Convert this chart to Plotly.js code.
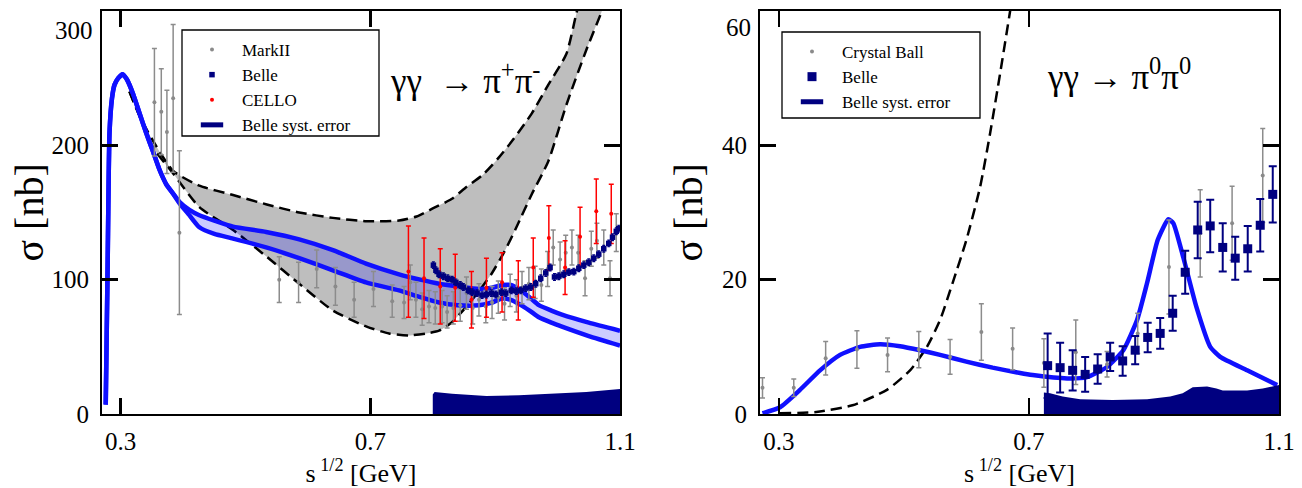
<!DOCTYPE html>
<html>
<head>
<meta charset="utf-8">
<script src="https://cdn.plot.ly/plotly-3.0.1.min.js"></script>
<style>html,body{margin:0;padding:0;background:#fff;}#chart{width:1302px;height:488px;}</style>
</head>
<body>
<div id="chart"></div>
<script>
// ---------------- Left panel: gamma gamma -> pi+ pi- ----------------
const grayUpX = [0.314,0.33,0.351,0.384,0.426,0.48,0.534,0.586,0.64,0.694,0.746,0.774,0.80,0.83,0.854,0.88,0.906,0.93,0.959,0.985,1.014,1.03,1.045];
const grayUpY = [240,222,204,181,170,163,156,150,146,143.5,144,147,153,160,169,178,191,205,224,245,268,298,325];
const grayLoX = [0.314,0.33,0.351,0.384,0.426,0.48,0.534,0.586,0.64,0.694,0.73,0.762,0.79,0.81,0.83,0.854,0.875,0.895,0.915,0.934,0.959,0.985,1.014,1.046,1.071,1.09];
const grayLoY = [240,222,199,179,154,137,117,97,77,65,60,58.5,60,62,68,80,92,105,121,139,164,188,230,271,300,325];

const bandUpX = [0.276,0.279,0.282,0.286,0.29,0.296,0.303,0.31,0.32,0.33,0.341,0.352,0.362,0.373,0.384,0.394,0.41,0.426,0.45,0.48,0.533,0.586,0.64,0.693,0.746,0.78,0.81,0.84,0.874,0.895,0.911,0.925,0.938,0.955,0.970,0.99,1.007,1.05,1.1];
const bandUpY = [7,110,209,235,245,250,253,249,238,224,209,195,182,171,164,158,152,148,144,139.5,135.5,130,122,112,104,100,97,95,93,94,96,96,93,87,81,77,74,68,62];
const bandLoX = [0.276,0.279,0.282,0.286,0.29,0.296,0.303,0.31,0.32,0.33,0.341,0.352,0.362,0.373,0.384,0.394,0.41,0.426,0.45,0.48,0.533,0.586,0.64,0.693,0.746,0.78,0.81,0.84,0.874,0.895,0.911,0.925,0.938,0.955,0.970,0.99,1.007,1.05,1.1];
const bandLoY = [7,110,209,235,245,250,253,249,238,224,209,195,182,171,164,157,148,139,134,130.6,124,116,107,98,92,87,83,81,81,83,86,85,82,77,72,68,65,58,51];

const markIIX = [0.354,0.365,0.374,0.384,0.394,0.554,0.585,0.614,0.644,0.674,0.705,0.735,0.754,0.764,0.773,0.783,0.794,0.804,0.815,0.823,0.833,0.844,0.854,0.864,0.874,0.885,0.895,0.905,0.915,0.924,0.934,0.943,0.954,0.964,0.974,0.984,0.993,1.004,1.013,1.023,1.033,1.044,1.054,1.063,1.074,1.084,1.094];
const markIIY = [232,225,210,235,135,100,98,108,95,85,93,84,83,98,85,78,80,79,80,76,79,81,90,79,85,80,83,87,82,92,88,94,97,98,96,108,124,115,120,124,120,101,123,129,124,101,135];
const markIIE = [40,32,31,55,61,17,15,14,14,13,13,12,12,13,13,12,12,12,12,12,12,12,12,12,12,12,12,12,12,12,12,12,12,12,12,13,13,13,13,13,13,13,13,13,13,13,14];

const belleLX = [0.801,0.805,0.81,0.817,0.824,0.831,0.837,0.844,0.849,0.857,0.863,0.871,0.879,0.886,0.894,0.901,0.91,0.917,0.926,0.934,0.941,0.949,0.957,0.965,0.973,0.981,0.988,0.995,1.002,1.01,1.018,1.026,1.034,1.042,1.05,1.058,1.066,1.074,1.082,1.088,1.094,1.098];
const belleLY = [110.8,107,104,102.6,101,100,98,96,94.5,92,90.7,90,88.5,89,90,89,90.7,90,92,91.5,92,93.7,94.5,97,101,105,109,102,102.6,104,105.6,106,108.5,110.8,113,116,119,123,127,131.6,136,138];
const belleLE = [2.5,2.5,2.5,2.5,2.5,2.5,2.5,2.5,2.5,2.5,2.5,2.5,2.5,2.5,2.5,2.5,2.5,2.5,2.5,2.5,2.5,2.5,2.5,2.5,2.5,2.5,2.5,2.5,2.5,2.5,2.5,2.5,2.5,2.5,2.5,2.5,2.5,2.5,2.5,2.5,2.5,2.5];

const celloX = [0.761,0.786,0.812,0.836,0.862,0.886,0.911,0.937,0.961,0.986,1.012,1.036,1.062,1.086];
const celloY = [106,101,95,94,85,94,98,92,109,131,109,132,151,149];
const celloE = [34,30,28,25,21,22,22,22,22,24,20,22,24,22];

const systLX = [0.80,0.803,0.831,0.886,0.938,0.991,1.046,1.1];
const systLY = [14.5,16.4,15,13.4,14,15.4,16.4,18.6];

// ---------------- Right panel: gamma gamma -> pi0 pi0 ----------------
const curveRX = [0.274,0.302,0.334,0.366,0.398,0.43,0.462,0.494,0.526,0.558,0.60,0.642,0.686,0.706,0.761,0.793,0.825,0.851,0.873,0.889,0.906,0.923,0.931,0.947,0.968,0.99,1.006,1.049,1.097];
const curveRY = [0.1,1.0,3.6,6.5,8.8,10.0,10.4,10.1,9.5,8.8,7.8,6.9,6.1,5.8,5.3,5.5,7.0,9.5,14,19.5,25.9,29.0,28.4,23.3,15.9,10.0,8.5,6.5,4.3];

const dashRX = [0.302,0.36,0.418,0.473,0.51,0.537,0.558,0.578,0.60,0.622,0.638,0.654,0.67,0.68];
const dashRY = [0.1,0.3,1.3,3.6,6.5,10.0,14.0,19.5,25.9,33.8,41.8,50.7,60,66];

const cbX = [0.274,0.324,0.375,0.425,0.474,0.524,0.574,0.624,0.674,0.724,0.775,0.825,0.874,0.924,0.974,1.025,1.074];
const cbY = [3.9,3.9,8.3,9.6,8.8,9.6,8.5,12.2,9.7,7.6,9.2,7.4,12.0,21.9,26.9,28.4,35.5];
const cbE = [1.5,1.3,2.5,2.8,2.5,2.7,2.6,4.2,3.1,3.6,4.8,1.9,3.0,7.0,6.5,5.5,7.0];

const belleRX = [0.73,0.75,0.77,0.79,0.81,0.83,0.85,0.87,0.89,0.91,0.93,0.95,0.97,0.99,1.01,1.03,1.05,1.07,1.09];
const belleRY = [7.2,6.9,6.5,5.9,6.7,8.5,7.9,9.5,11.4,12.0,15.0,21.1,27.4,28.0,24.8,23.2,24.6,28.1,32.7];
const belleRE = [4.8,3.7,3.0,2.6,2.2,2.1,2.2,2.1,2.2,2.3,2.6,3.2,4.2,3.9,3.6,3.2,3.4,3.9,4.2];

const systRX = [0.724,0.734,0.754,0.782,0.834,0.889,0.926,0.946,0.962,0.985,1.0,1.01,1.049,1.074,1.1];
const systRY = [3.2,3.1,2.6,2.2,2.1,2.2,2.6,3.1,4.0,4.1,3.8,3.5,3.5,3.8,4.3];

const xTicks = [0.3,0.7,1.1];
const xTickText = ['0.3','0.7','1.1'];
const yTicksL = [0,100,200];
const yTicksR = [0,20,40];

// ---------------- styles ----------------
const FONT = 'Liberation Serif';
const NAVY = '#000080';
const BLUE = '#1010ff';
const GRAYPT = '#8a8a8a';
const GRAYBAND = '#bebebe';

function eb(arr, color, thick, w) {
  return {type:'data', array:arr, visible:true, color:color, thickness:thick, width:w};
}

const traces = [
  {x:grayUpX, y:grayUpY, xaxis:'x', yaxis:'y', mode:'lines', line:{color:'black', width:2.5, dash:'11px,6px', shape:'spline', smoothing:0.6}, showlegend:false, hoverinfo:'skip'},
  {x:grayLoX, y:grayLoY, xaxis:'x', yaxis:'y', mode:'lines', fill:'tonexty', fillcolor:GRAYBAND, line:{color:'black', width:2.5, dash:'11px,6px', shape:'spline', smoothing:0.6}, showlegend:false, hoverinfo:'skip'},
  {x:bandUpX, y:bandUpY, xaxis:'x', yaxis:'y', mode:'lines', line:{color:BLUE, width:4.5, shape:'spline', smoothing:0.5}, showlegend:false, hoverinfo:'skip'},
  {x:bandLoX, y:bandLoY, xaxis:'x', yaxis:'y', mode:'lines', fill:'tonexty', fillcolor:'rgba(0,0,255,0.2)', line:{color:BLUE, width:4.5, shape:'spline', smoothing:0.5}, showlegend:false, hoverinfo:'skip'},
  {x:systLX, y:systLY, xaxis:'x', yaxis:'y', mode:'lines', fill:'tozeroy', fillcolor:NAVY, line:{color:NAVY, width:0}, showlegend:false, hoverinfo:'skip'},
  {x:markIIX, y:markIIY, xaxis:'x', yaxis:'y', mode:'markers', marker:{color:GRAYPT, size:4, symbol:'circle'}, error_y:eb(markIIE, '#8c8c8c', 1.5, 2.5), name:'MarkII', legend:'legend', legendrank:1},
  {x:celloX, y:celloY, xaxis:'x', yaxis:'y', mode:'markers', marker:{color:'#ff0000', size:4, symbol:'circle'}, error_y:eb(celloE, '#ff0000', 1.5, 2.5), name:'CELLO', legend:'legend', legendrank:3},
  {x:belleLX, y:belleLY, xaxis:'x', yaxis:'y', mode:'markers', marker:{color:NAVY, size:5.5, symbol:'square'}, error_y:eb(belleLE, NAVY, 1.2, 1.5), name:'Belle', legend:'legend', legendrank:2},
  {x:[null], y:[null], xaxis:'x', yaxis:'y', mode:'markers', marker:{symbol:'line-ew', size:17, color:NAVY, line:{color:NAVY, width:5}}, name:'Belle syst. error', legend:'legend', legendrank:4, hoverinfo:'skip'},

  {x:dashRX, y:dashRY, xaxis:'x2', yaxis:'y2', mode:'lines', line:{color:'black', width:2.5, dash:'11px,6px', shape:'spline', smoothing:0.6}, showlegend:false, hoverinfo:'skip'},
  {x:curveRX, y:curveRY, xaxis:'x2', yaxis:'y2', mode:'lines', line:{color:BLUE, width:4.5, shape:'spline', smoothing:0.5}, showlegend:false, hoverinfo:'skip'},
  {x:systRX, y:systRY, xaxis:'x2', yaxis:'y2', mode:'lines', fill:'tozeroy', fillcolor:NAVY, line:{color:NAVY, width:0}, showlegend:false, hoverinfo:'skip'},
  {x:cbX, y:cbY, xaxis:'x2', yaxis:'y2', mode:'markers', marker:{color:GRAYPT, size:4, symbol:'circle'}, error_y:eb(cbE, '#8c8c8c', 1.5, 2.5), name:'Crystal Ball', legend:'legend2', legendrank:1},
  {x:belleRX, y:belleRY, xaxis:'x2', yaxis:'y2', mode:'markers', marker:{color:NAVY, size:9, symbol:'square'}, error_y:eb(belleRE, NAVY, 2, 4), name:'Belle', legend:'legend2', legendrank:2},
  {x:[null], y:[null], xaxis:'x2', yaxis:'y2', mode:'markers', marker:{symbol:'line-ew', size:17, color:NAVY, line:{color:NAVY, width:5}}, name:'Belle syst. error', legend:'legend2', legendrank:3, hoverinfo:'skip'}
];

const W = 1302, H = 488;
function axBase() {
  return {
    showgrid:false, zeroline:false, showline:true, linecolor:'black', linewidth:2,
    mirror:'ticks', ticks:'inside', ticklen:16, tickwidth:2.5, tickcolor:'black',
    tickfont:{family:FONT, size:25, color:'black'}, automargin:false, fixedrange:true
  };
}
const yDom = [(H-414)/H, (H-11)/H];
const yMid = (yDom[0] + yDom[1]) / 2;

const layout = {
  width:W, height:H,
  margin:{l:0, r:0, t:0, b:0},
  paper_bgcolor:'white', plot_bgcolor:'white',
  font:{family:FONT, color:'black'},
  xaxis: Object.assign(axBase(), {domain:[102/W, 620/W], anchor:'y', range:[0.27,1.1], tickvals:xTicks, ticktext:xTickText,
    ticklabelstandoff:4,
    title:{text:'s<sup> 1/2</sup> [GeV]', font:{family:FONT, size:26, color:'black'}, standoff:8}}),
  yaxis: Object.assign(axBase(), {domain:yDom, anchor:'x', range:[0,300], tickvals:yTicksL, ticklabelstandoff:6}),
  xaxis2: Object.assign(axBase(), {domain:[760/W, 1279/W], anchor:'y2', range:[0.27,1.1], tickvals:xTicks, ticktext:xTickText,
    ticklabelstandoff:4,
    title:{text:'s<sup> 1/2</sup> [GeV]', font:{family:FONT, size:26, color:'black'}, standoff:8}}),
  yaxis2: Object.assign(axBase(), {domain:yDom, anchor:'x2', range:[0,60], tickvals:yTicksR, ticklabelstandoff:6}),
  legend:{x:182/W, y:1-32/H, xanchor:'left', yanchor:'top', bgcolor:'rgba(0,0,0,0)', borderwidth:0,
    font:{family:FONT, size:17, color:'black'}, itemwidth:50, tracegroupgap:0, traceorder:'normal'},
  legend2:{x:782/W, y:1-34/H, xanchor:'left', yanchor:'top', bgcolor:'rgba(0,0,0,0)', borderwidth:0,
    font:{family:FONT, size:17, color:'black'}, itemwidth:50, tracegroupgap:0, traceorder:'normal'},
  shapes:[
    {type:'rect', xref:'paper', yref:'paper', x0:182/W, x1:379/W, y0:1-136/H, y1:1-30/H, line:{color:'black', width:1.3}, fillcolor:'white', layer:'above'},
    {type:'rect', xref:'paper', yref:'paper', x0:782/W, x1:980/W, y0:1-118/H, y1:1-32/H, line:{color:'black', width:1.3}, fillcolor:'white', layer:'above'}
  ],
  annotations:[
    {xref:'paper', yref:'paper', x:29/W, y:yMid, xanchor:'center', yanchor:'middle', textangle:-90, text:'σ [nb]', showarrow:false, font:{family:FONT, size:40, color:'black'}},
    {xref:'paper', yref:'paper', x:688/W, y:yMid, xanchor:'center', yanchor:'middle', textangle:-90, text:'σ [nb]', showarrow:false, font:{family:FONT, size:40, color:'black'}},
    {xref:'paper', yref:'paper', x:95/W, y:1-30/H, xanchor:'right', yanchor:'middle', text:'300', showarrow:false, font:{family:FONT, size:25, color:'black'}},
    {xref:'paper', yref:'paper', x:753/W, y:1-28/H, xanchor:'right', yanchor:'middle', text:'60', showarrow:false, font:{family:FONT, size:25, color:'black'}},
    {xref:'paper', yref:'paper', x:388/W, y:1-78/H, xanchor:'left', yanchor:'middle', text:'γγ &nbsp;→ π<sup>+</sup>π<sup>-</sup>', showarrow:false, font:{family:FONT, size:35, color:'black'}},
    {xref:'paper', yref:'paper', x:1045/W, y:1-74/H, xanchor:'left', yanchor:'middle', text:'γγ → π<sup>0</sup>π<sup>0</sup>', showarrow:false, font:{family:FONT, size:35, color:'black'}}
  ]
};

Plotly.newPlot('chart', traces, layout, {staticPlot:true, displayModeBar:false});
</script>
</body>
</html>
